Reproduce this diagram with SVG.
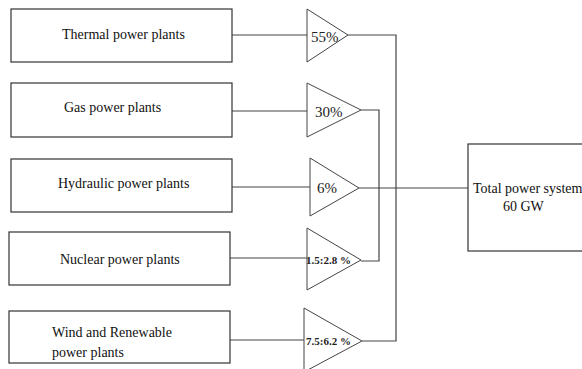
<svg xmlns="http://www.w3.org/2000/svg" width="582" height="369" viewBox="0 0 582 369">
<style>
.box{fill:#fff;stroke:#333;stroke-width:1.2}
.tri{fill:#fff;stroke:#444;stroke-width:1}
.ln{fill:none;stroke:#444;stroke-width:1.2}
.t{font-family:"Liberation Serif","Times New Roman",serif;font-size:14px;fill:#111}
.p{font-family:"Liberation Serif","Times New Roman",serif;font-size:15px;fill:#222}
.b{font-family:"Liberation Serif","Times New Roman",serif;font-size:11px;font-weight:bold;fill:#222}
</style>
<rect width="582" height="369" fill="#fff"/>
<g id="connectors">
<path class="ln" d="M232 35H307M232 111H307M232 187H310M230 258H307M230 340H304"/>
<path class="ln" d="M348 35H396V341H362"/>
<path class="ln" d="M361 110H379V261H361"/>
<path class="ln" d="M359 188H469"/>
</g>
<g id="thermal"><rect class="box" x="11" y="9" width="221" height="53"/><text class="t" x="62" y="39">Thermal power plants</text></g>
<g id="gas"><rect class="box" x="11" y="83" width="221" height="54"/><text class="t" x="64" y="112">Gas power plants</text></g>
<g id="hydraulic"><rect class="box" x="11" y="159" width="221" height="53"/><text class="t" x="58" y="188">Hydraulic power plants</text></g>
<g id="nuclear"><rect class="box" x="9" y="232" width="221" height="53"/><text class="t" x="60" y="264">Nuclear power plants</text></g>
<g id="wind"><rect class="box" x="9" y="311" width="221" height="52"/><text class="t" x="52" y="337">Wind and Renewable</text><text class="t" x="52" y="357">power plants</text></g>
<g id="tri55"><polygon class="tri" points="307,9 348,35 307,62"/><text class="p" x="311" y="42">55%</text></g>
<g id="tri30"><polygon class="tri" points="307,83 361,110 307,137"/><text class="p" x="315" y="117">30%</text></g>
<g id="tri6"><polygon class="tri" points="310,158 359,188 310,216"/><text class="p" x="317" y="193">6%</text></g>
<g id="tri15"><polygon class="tri" points="307,228 361,260 307,290"/><text class="b" x="306" y="264">1.5:2.8 %</text></g>
<g id="tri75"><polygon class="tri" points="304,308 362,341 304,372"/><text class="b" x="306" y="345">7.5:6.2 %</text></g>
<g id="total"><rect class="box" x="468" y="144" width="130" height="107"/><text class="t" x="473" y="193">Total power system</text><text class="t" x="503" y="211">60 GW</text></g>
</svg>
